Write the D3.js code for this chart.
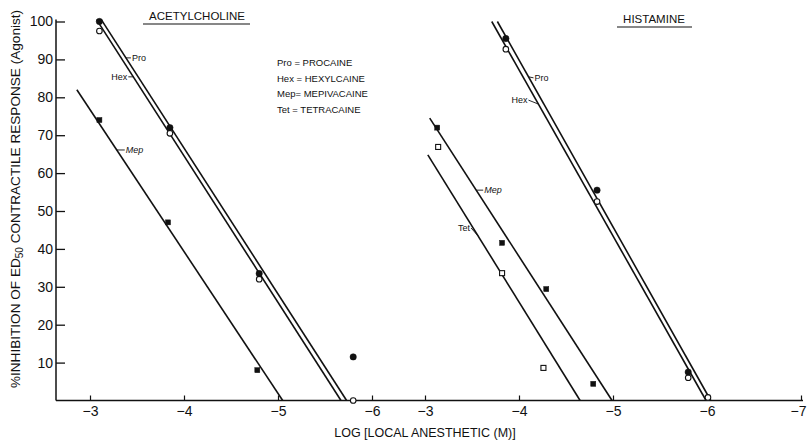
<!DOCTYPE html>
<html>
<head>
<meta charset="utf-8">
<script src="https://cdn.jsdelivr.net/npm/d3@7"></script>
<style>
  body { margin: 0; background: #fff; }
  svg { font-family: "Liberation Sans", Arial, sans-serif; }
</style>
</head>
<body>
<div id="chart"></div>
<script>
// ---- data (log molar concentration, % inhibition) ----
const leftTicks = [-3, -4, -5, -6];
const rightTicks = [-3, -4, -5, -6, -7];
const yTicks = [10, 20, 30, 40, 50, 60, 70, 80, 90, 100];

// Acetylcholine panel
const achPro = [[-3.1, 100], [-3.85, 72], [-4.8, 33.5], [-5.8, 11.5]];
const achHex = [[-3.1, 97.5], [-3.85, 70.5], [-4.8, 32], [-5.8, 0]];
const achMep = [[-3.1, 74], [-3.83, 47], [-4.78, 8]];
const achProLine = [[-3.12, 100.5], [-5.73, 0]];
const achHexLine = [[-3.07, 100.5], [-5.67, 0]];
const achMepLine = [[-2.86, 82], [-5.05, 0]];

// Histamine panel
const hisPro = [[-3.86, 95.5], [-4.83, 55.5], [-5.8, 7.5]];
const hisHex = [[-3.86, 92.7], [-4.83, 52.5], [-5.8, 6], [-6.01, 0.8]];
const hisMep = [[-3.13, 72], [-3.82, 41.6], [-4.29, 29.4], [-4.79, 4.4]];
const hisTet = [[-3.14, 66.9], [-3.82, 33.6], [-4.26, 8.6]];
const hisProLine = [[-3.77, 100], [-6.04, 0]];
const hisHexLine = [[-3.71, 100], [-5.99, 0]];
const hisMepLine = [[-3.05, 74.5], [-4.99, 0]];
const hisTetLine = [[-3.03, 64.8], [-4.65, 0]];

const legendRows = ["Pro = PROCAINE", "Hex = HEXYLCAINE", "Mep= MEPIVACAINE", "Tet  = TETRACAINE"];

const width = 807, height = 441;
const ink = "#111";

const svg = d3.select("#chart").append("svg")
  .attr("width", width)
  .attr("height", height);

const xL = d3.scaleLinear().domain([-3, -6]).range([90, 372]);
const xR = d3.scaleLinear().domain([-3, -7]).range([425, 801]);
const y = d3.scaleLinear().domain([0, 100]).range([400.5, 21.5]);

// --- axes ---
const axisX0 = 56, axisX1 = 803;

svg.append("g")
  .attr("transform", `translate(${axisX0},0)`)
  .call(d3.axisLeft(y).tickValues(yTicks).tickSize(-9).tickPadding(3))
  .call(g => g.select(".domain").remove())
  .call(g => g.selectAll("line").attr("stroke", ink).attr("stroke-width", 1.3))
  .call(g => g.selectAll("text").attr("fill", ink).attr("font-size", "14px").attr("font-family", "Liberation Sans, Arial, sans-serif"));

[[xL, leftTicks], [xR, rightTicks]].forEach(([sc, ticks]) => {
  svg.append("g")
    .attr("transform", `translate(0,${y(0)})`)
    .call(d3.axisBottom(sc).tickValues(ticks).tickSize(-5).tickPadding(6).tickFormat(d3.format("d")))
    .call(g => g.select(".domain").remove())
    .call(g => g.selectAll("line").attr("stroke", ink).attr("stroke-width", 1.2))
    .call(g => g.selectAll("text").attr("fill", ink).attr("font-size", "14px").attr("font-family", "Liberation Sans, Arial, sans-serif")
      .attr("dx", d => d === -7 ? -3 : 0));
});

svg.append("line")
  .attr("x1", axisX0).attr("x2", axisX0)
  .attr("y1", y(0)).attr("y2", y(100) - 2)
  .attr("stroke", ink).attr("stroke-width", 1.5);

svg.append("line")
  .attr("x1", axisX0).attr("x2", axisX1)
  .attr("y1", y(0)).attr("y2", y(0))
  .attr("stroke", ink).attr("stroke-width", 1.5);

// axis titles
svg.append("text")
  .attr("x", 425).attr("y", 437)
  .attr("text-anchor", "middle")
  .attr("font-size", "12.5px")
  .attr("fill", ink)
  .text("LOG [LOCAL  ANESTHETIC (M)]");

const yt = svg.append("text")
  .attr("transform", "translate(20,199) rotate(-90)")
  .attr("text-anchor", "middle")
  .attr("font-size", "13.6px")
  .attr("fill", ink);
yt.append("tspan").text("%INHIBITION OF ED");
yt.append("tspan").attr("font-size", "10px").attr("dy", 3).text("50");
yt.append("tspan").attr("dy", -3).text(" CONTRACTILE RESPONSE (Agonist)");

// panel titles
[["ACETYLCHOLINE", 197, 20, 143, 250], ["HISTAMINE", 654, 23, 617, 692]].forEach(([t, cx, by, u0, u1]) => {
  svg.append("text")
    .attr("x", cx).attr("y", by)
    .attr("text-anchor", "middle")
    .attr("font-size", "11.5px")
    .attr("fill", ink)
    .text(t);
  svg.append("line")
    .attr("x1", u0).attr("x2", u1)
    .attr("y1", by + 4).attr("y2", by + 4)
    .attr("stroke", ink).attr("stroke-width", 1.2);
});

// legend
svg.append("g").selectAll("text")
  .data(legendRows)
  .join("text")
  .attr("x", 277)
  .attr("y", (d, i) => 66 + i * 15.5)
  .attr("font-size", "9.5px")
  .attr("fill", ink)
  .text(d => d);

// --- fitted lines ---
const lineL = d3.line().x(d => xL(d[0])).y(d => y(d[1]));
const lineR = d3.line().x(d => xR(d[0])).y(d => y(d[1]));

[[lineL, achProLine], [lineL, achHexLine], [lineL, achMepLine],
 [lineR, hisProLine], [lineR, hisHexLine], [lineR, hisMepLine], [lineR, hisTetLine]]
  .forEach(([gen, d]) => {
    svg.append("path")
      .attr("d", gen(d))
      .attr("fill", "none")
      .attr("stroke", ink)
      .attr("stroke-width", 1.6);
  });

// --- markers ---
function circles(data, sc, filled) {
  svg.append("g").selectAll("circle")
    .data(data)
    .join("circle")
    .attr("cx", d => sc(d[0]))
    .attr("cy", d => y(d[1]))
    .attr("r", filled ? 3.2 : 2.8)
    .attr("fill", filled ? ink : "#fff")
    .attr("stroke", ink)
    .attr("stroke-width", filled ? 0.5 : 1.1);
}
function squares(data, sc, filled) {
  const s = 5;
  svg.append("g").selectAll("rect")
    .data(data)
    .join("rect")
    .attr("x", d => sc(d[0]) - s / 2)
    .attr("y", d => y(d[1]) - s / 2)
    .attr("width", s).attr("height", s)
    .attr("fill", filled ? ink : "#fff")
    .attr("stroke", ink)
    .attr("stroke-width", filled ? 0.5 : 1.1);
}

circles(achHex, xL, false);
circles(achPro, xL, true);
squares(achMep, xL, true);
circles(hisHex, xR, false);
circles(hisPro, xR, true);
squares(hisMep, xR, true);
squares(hisTet, xR, false);

// --- line labels with short leaders ---
function pointOn(line, v) {
  const [[x0, y0], [x1, y1]] = line;
  return x0 + (v - y0) / (y1 - y0) * (x1 - x0);
}
function tag(name, line, sc, v, dx, dy, anchor) {
  const px = sc(pointOn(line, v)), py = y(v);
  const tx = px + dx, ty = py + dy;
  svg.append("line")
    .attr("x1", px).attr("y1", py)
    .attr("x2", anchor === "end" ? tx + 1 : tx - 1).attr("y2", ty - 2)
    .attr("stroke", ink).attr("stroke-width", 0.9);
  svg.append("text")
    .attr("x", tx).attr("y", ty + 1)
    .attr("text-anchor", anchor)
    .attr("font-size", "9px")
    .attr("font-style", name === "Mep" ? "italic" : "normal")
    .attr("fill", ink)
    .text(name);
}

tag("Pro", achProLine, xL, 90.4, 6, 2, "start");
tag("Hex", achHexLine, xL, 85.4, -6, 2, "end");
tag("Mep", achMepLine, xL, 66.1, 9, 2, "start");
tag("Pro", hisProLine, xR, 85.4, 6, 3, "start");
tag("Hex", hisHexLine, xR, 78.2, -11, -2, "end");
tag("Mep", hisMepLine, xR, 55.5, 8, 2, "start");
tag("Tet", hisTetLine, xR, 43.4, -8, -6, "end");
</script>
</body>
</html>
